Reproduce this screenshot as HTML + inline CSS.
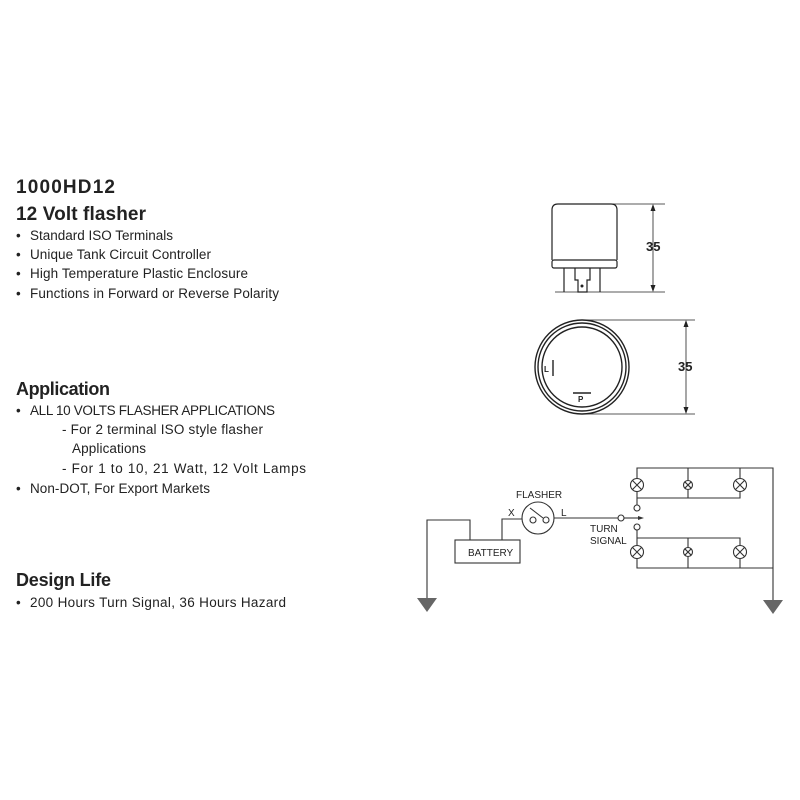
<!DOCTYPE html>
<html><head><meta charset="utf-8"><style>
html,body{margin:0;padding:0;background:#fff;}
svg{display:block;}
text{font-family:"Liberation Sans",sans-serif;fill:#222;}
</style></head><body>
<svg width="800" height="800" viewBox="0 0 800 800" xmlns="http://www.w3.org/2000/svg">
<g>
<text x="16" y="193" font-size="19" font-weight="bold" textLength="99">1000HD12</text>
<text x="16" y="220" font-size="19" font-weight="bold" textLength="130">12 Volt flasher</text>
<g font-size="13.5">
<text x="16" y="240">•</text><text x="30" y="240" textLength="143">Standard ISO Terminals</text>
<text x="16" y="259">•</text><text x="30" y="259" textLength="181">Unique Tank Circuit Controller</text>
<text x="16" y="278">•</text><text x="30" y="278" textLength="218">High Temperature Plastic Enclosure</text>
<text x="16" y="298">•</text><text x="30" y="298" textLength="249">Functions in Forward or Reverse Polarity</text>
</g>
<text x="16" y="395" font-size="18" font-weight="bold" textLength="94">Application</text>
<g font-size="13.5">
<text x="16" y="415">•</text><text x="30" y="415" textLength="245">ALL 10 VOLTS FLASHER APPLICATIONS</text>
<text x="62" y="434" textLength="201">- For 2 terminal ISO style flasher</text>
<text x="72" y="453" textLength="74">Applications</text>
<text x="62" y="473" textLength="244">- For 1 to 10, 21 Watt, 12 Volt Lamps</text>
<text x="16" y="493">•</text><text x="30" y="493" textLength="180">Non-DOT, For Export Markets</text>
</g>
<text x="16" y="586" font-size="18" font-weight="bold" textLength="95">Design Life</text>
<g font-size="13.5">
<text x="16" y="607">•</text><text x="30" y="607" textLength="256">200 Hours Turn Signal, 36 Hours Hazard</text>
</g>
</g>
<!-- side view -->
<g stroke="#222" fill="none" stroke-width="1.2">
<path d="M552 260 V210 Q552 204 558 204 H611 Q617 204 617 210 V260"/>
<rect x="552" y="260" width="65" height="8" rx="2"/>
<line x1="564" y1="268" x2="564" y2="292"/>
<line x1="600" y1="268" x2="600" y2="292"/>
<path d="M575 268 V280 H578 V292 H587 V280 H590 V268"/>
<line x1="555" y1="292" x2="665" y2="292" stroke-width="0.8"/>
<line x1="600" y1="204" x2="665" y2="204" stroke-width="0.8"/>
<line x1="653" y1="206" x2="653" y2="290" stroke-width="0.8"/>
</g>
<circle cx="582" cy="286" r="1.5" fill="#222"/>
<path d="M653 204 l-2.5 7 h5z M653 292 l-2.5 -7 h5z" fill="#222"/>
<text x="646" y="251" font-size="13" font-weight="bold">35</text>
<!-- top view -->
<g stroke="#222" fill="none" stroke-width="1.4">
<circle cx="582" cy="367" r="47"/>
<circle cx="582" cy="367" r="44"/>
<circle cx="582" cy="367" r="40"/>
<line x1="553" y1="360" x2="553" y2="376"/>
<line x1="573" y1="393" x2="591" y2="393"/>
<line x1="582" y1="320" x2="695" y2="320" stroke-width="0.8"/>
<line x1="582" y1="414" x2="695" y2="414" stroke-width="0.8"/>
<line x1="686" y1="322" x2="686" y2="412" stroke-width="0.8"/>
</g>
<path d="M686 320 l-2.5 7 h5z M686 414 l-2.5 -7 h5z" fill="#222"/>
<text x="544" y="372" font-size="8" font-weight="bold">L</text>
<text x="578" y="402" font-size="8" font-weight="bold">P</text>
<text x="678" y="371" font-size="13" font-weight="bold">35</text>
<!-- circuit -->
<g stroke="#333" fill="none" stroke-width="1.1">
<rect x="455" y="540" width="65" height="23"/>
<path d="M470 540 V520 H427 V598"/>
<path d="M502 540 V519 H522"/>
<circle cx="538" cy="518" r="16"/>
<circle cx="533" cy="520" r="3"/>
<circle cx="546" cy="520" r="3"/>
<line x1="530" y1="508" x2="543" y2="518"/>
<line x1="554" y1="518" x2="618" y2="518"/>
<circle cx="621" cy="518" r="3"/>
<line x1="624" y1="518" x2="638" y2="518"/>
<circle cx="637" cy="508" r="3"/>
<circle cx="637" cy="527" r="3"/>
<path d="M637 505 V468 H773 V600"/>
<path d="M637 498 H740 V491"/>
<line x1="688" y1="468" x2="688" y2="498"/>
<line x1="740" y1="468" x2="740" y2="478"/>
<line x1="637" y1="478" x2="637" y2="491"/>
<path d="M637 530 V568 H773"/>
<path d="M637 538 H740 V545"/>
<line x1="688" y1="538" x2="688" y2="568"/>
<line x1="740" y1="559" x2="740" y2="568"/>
<circle cx="637" cy="485" r="6.5" fill="#fff"/>
<circle cx="688" cy="485" r="4.5" fill="#fff"/>
<circle cx="740" cy="485" r="6.5" fill="#fff"/>
<circle cx="637" cy="552" r="6.5" fill="#fff"/>
<circle cx="688" cy="552" r="4.5" fill="#fff"/>
<circle cx="740" cy="552" r="6.5" fill="#fff"/>
<path d="M632.4 480.4l9.2 9.2M641.6 480.4l-9.2 9.2 M684.8 481.8l6.4 6.4M691.2 481.8l-6.4 6.4 M735.4 480.4l9.2 9.2M744.6 480.4l-9.2 9.2 M632.4 547.4l9.2 9.2M641.6 547.4l-9.2 9.2 M684.8 548.8l6.4 6.4M691.2 548.8l-6.4 6.4 M735.4 547.4l9.2 9.2M744.6 547.4l-9.2 9.2"/>
</g>
<path d="M638 516 l6 2 l-6 2z" fill="#333"/>
<path d="M417 598 H437 L427 612z M763 600 H783 L773 614z" fill="#666"/>
<g font-size="10" fill="#333">
<text x="468" y="556">BATTERY</text>
<text x="516" y="498">FLASHER</text>
<text x="508" y="516">X</text>
<text x="561" y="516">L</text>
<text x="590" y="532">TURN</text>
<text x="590" y="544">SIGNAL</text>
</g>
</svg>
</body></html>
